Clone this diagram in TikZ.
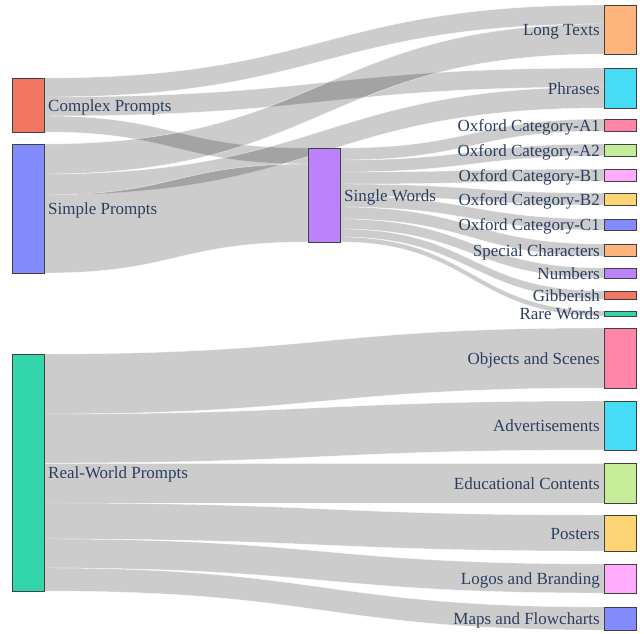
\documentclass[tikz,border=0pt]{standalone}
\usepackage{fontspec}
\setmainfont{Liberation Serif}
\usetikzlibrary{calc}
\pgfdeclarelayer{bg}
\pgfsetlayers{bg,main}
\definecolor{cpC}{RGB}{242,119,98}
\definecolor{spC}{RGB}{130,139,251}
\definecolor{rwC}{RGB}{51,214,171}
\definecolor{swC}{RGB}{188,130,251}
\definecolor{ltC}{RGB}{255,180,123}
\definecolor{phC}{RGB}{71,220,245}
\definecolor{pkC}{RGB}{255,133,168}
\definecolor{lmC}{RGB}{197,237,153}
\definecolor{mgC}{RGB}{255,172,255}
\definecolor{ylC}{RGB}{254,213,117}
\definecolor{labelC}{RGB}{42,63,95}
\tikzset{
  sbox/.style={draw=black!75, line width=0.6pt, inner sep=0pt, outer sep=0pt, minimum width=32pt},
  lbl/.style={text=labelC, font=\fontsize{17}{20}\selectfont, inner sep=0pt},
  flow/.style={fill=black, fill opacity=0.2, draw=white, draw opacity=0.7, line width=0.4pt}
}
\newcommand{\nd}[5]{\node[sbox, fill=#5, minimum height={#4pt-#3pt}, anchor=north west] (#1) at (#2,#3) {};}
\newcommand{\band}[5]{%
  \path[flow] let \p1=(#1.north east), \p2=(#3.north west) in
    ({\x1},{\y1-#2pt}) .. controls ({(\x1+\x2)/2},{\y1-#2pt}) and ({(\x1+\x2)/2},{\y2-#4pt}) .. ({\x2},{\y2-#4pt})
    -- ({\x2},{\y2-#4pt-#5pt}) .. controls ({(\x1+\x2)/2},{\y2-#4pt-#5pt}) and ({(\x1+\x2)/2},{\y1-#2pt-#5pt}) .. ({\x1},{\y1-#2pt-#5pt}) -- cycle;}
\begin{document}
\begin{tikzpicture}[x=1pt,y=-1pt]
\useasboundingbox (0,0) rectangle (644,633);
% left column
\nd{cp}{12}{78}{132}{cpC}
\nd{sp}{12}{144}{273}{spC}
\nd{rw}{12}{354}{591}{rwC}
% middle
\nd{sw}{308}{148}{242}{swC}
% right column
\nd{lt}{604}{5}{54}{ltC}
\nd{ph}{604}{68}{108}{phC}
\nd{a1}{604}{119}{131}{pkC}
\nd{a2}{604}{144}{156}{lmC}
\nd{b1}{604}{169}{181}{mgC}
\nd{b2}{604}{193}{205}{ylC}
\nd{c1}{604}{219}{230}{spC}
\nd{sc}{604}{244}{256}{ltC}
\nd{nu}{604}{268}{278}{swC}
\nd{gi}{604}{291}{299}{cpC}
\nd{rr}{604}{311}{316}{rwC}
\nd{os}{604}{328}{388}{pkC}
\nd{ad}{604}{401}{450}{phC}
\nd{ed}{604}{463}{503}{lmC}
\nd{po}{604}{515}{551}{ylC}
\nd{lo}{604}{564}{593}{mgC}
\nd{ma}{604}{607}{630}{spC}
\begin{pgfonlayer}{bg}
\band{cp}{0}{lt}{0}{19}
\band{cp}{19}{ph}{0}{19}
\band{cp}{38}{sw}{0}{16}
\band{sp}{0}{lt}{19}{30}
\band{sp}{30}{ph}{19}{21}
\band{sp}{51}{sw}{16}{78}
\band{sw}{0}{a1}{0}{12}
\band{sw}{12}{a2}{0}{12}
\band{sw}{24}{b1}{0}{12}
\band{sw}{36}{b2}{0}{12}
\band{sw}{48}{c1}{0}{11}
\band{sw}{59}{sc}{0}{12}
\band{sw}{71}{nu}{0}{10}
\band{sw}{81}{gi}{0}{8}
\band{sw}{89}{rr}{0}{5}
\band{rw}{0}{os}{0}{60}
\band{rw}{60}{ad}{0}{49}
\band{rw}{109}{ed}{0}{40}
\band{rw}{149}{po}{0}{36}
\band{rw}{185}{lo}{0}{29}
\band{rw}{214}{ma}{0}{23}
\end{pgfonlayer}
% labels
\node[lbl, anchor=base west] (lcp) at ($(cp.east)+(4,6)$) {Complex Prompts};
\node[lbl, anchor=base west] (lsp) at ($(sp.east)+(4,6)$) {Simple Prompts};
\node[lbl, anchor=base west] (lrw) at ($(rw.east)+(4,6)$) {Real-World Prompts};
\node[lbl, anchor=base west] (lsw) at ($(sw.east)+(4,6)$) {Single Words};
\node[lbl, anchor=base east] (llt) at ($(lt.west)+(-4,6)$) {Long Texts};
\node[lbl, anchor=base east] (lph) at ($(ph.west)+(-4,6)$) {Phrases};
\node[lbl, anchor=base east] (la1) at ($(a1.west)+(-4,6)$) {Oxford Category-A1};
\node[lbl, anchor=base east] (la2) at ($(a2.west)+(-4,6)$) {Oxford Category-A2};
\node[lbl, anchor=base east] (lb1) at ($(b1.west)+(-4,6)$) {Oxford Category-B1};
\node[lbl, anchor=base east] (lb2) at ($(b2.west)+(-4,6)$) {Oxford Category-B2};
\node[lbl, anchor=base east] (lc1) at ($(c1.west)+(-4,6)$) {Oxford Category-C1};
\node[lbl, anchor=base east] (lsc) at ($(sc.west)+(-4,6)$) {Special Characters};
\node[lbl, anchor=base east] (lnu) at ($(nu.west)+(-4,6)$) {Numbers};
\node[lbl, anchor=base east] (lgi) at ($(gi.west)+(-4,6)$) {Gibberish};
\node[lbl, anchor=base east] (lrr) at ($(rr.west)+(-4,6)$) {Rare Words};
\node[lbl, anchor=base east] (los) at ($(os.west)+(-4,6)$) {Objects and Scenes};
\node[lbl, anchor=base east] (lad) at ($(ad.west)+(-4,6)$) {Advertisements};
\node[lbl, anchor=base east] (led) at ($(ed.west)+(-4,6)$) {Educational Contents};
\node[lbl, anchor=base east] (lpo) at ($(po.west)+(-4,6)$) {Posters};
\node[lbl, anchor=base east] (llo) at ($(lo.west)+(-4,6)$) {Logos and Branding};
\node[lbl, anchor=base east] (lma) at ($(ma.west)+(-4,6)$) {Maps and Flowcharts};
\end{tikzpicture}
\end{document}
